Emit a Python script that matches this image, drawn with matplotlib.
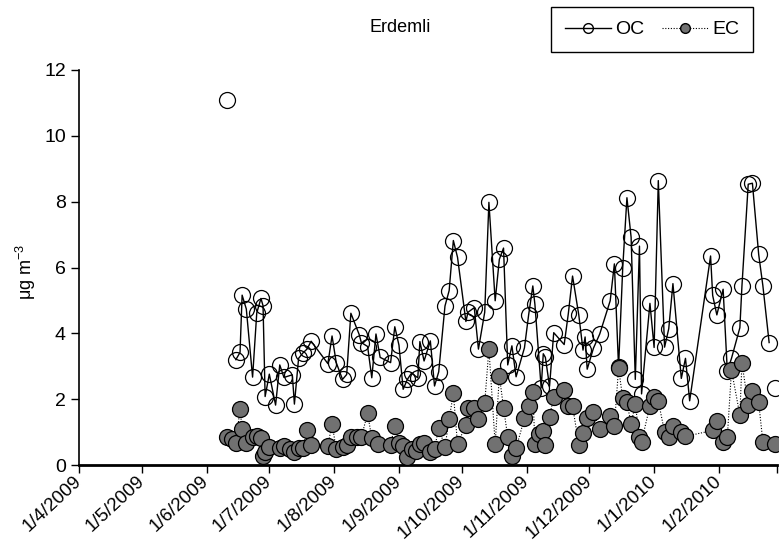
import numpy as np
import pandas as pd
import matplotlib
matplotlib.use("Agg")
import matplotlib.pyplot as plt
from matplotlib.lines import Line2D

# ====================================================
# DATA
# ====================================================

oc_dates = [
    "2009-06-11", "2009-06-15", "2009-06-17", "2009-06-18", "2009-06-20", "2009-06-23",
    "2009-06-25", "2009-06-27", "2009-06-28", "2009-06-29", "2009-07-01", "2009-07-04",
    "2009-07-06", "2009-07-08", "2009-07-12", "2009-07-13", "2009-07-15", "2009-07-17",
    "2009-07-19", "2009-07-21", "2009-07-29", "2009-07-31", "2009-08-02", "2009-08-05",
    "2009-08-07", "2009-08-09", "2009-08-13", "2009-08-14", "2009-08-17", "2009-08-19",
    "2009-08-21", "2009-08-23", "2009-08-28", "2009-08-30", "2009-09-01", "2009-09-03",
    "2009-09-05", "2009-09-07", "2009-09-10", "2009-09-11", "2009-09-13", "2009-09-16",
    "2009-09-18", "2009-09-20", "2009-09-23", "2009-09-25", "2009-09-27", "2009-09-29",
    "2009-10-03", "2009-10-04", "2009-10-07", "2009-10-09", "2009-10-12", "2009-10-14",
    "2009-10-17", "2009-10-19", "2009-10-21", "2009-10-23", "2009-10-25", "2009-10-27",
    "2009-10-31", "2009-11-02", "2009-11-04", "2009-11-05", "2009-11-08", "2009-11-09",
    "2009-11-10", "2009-11-12", "2009-11-14", "2009-11-19", "2009-11-21", "2009-11-23",
    "2009-11-26", "2009-11-28", "2009-11-29", "2009-11-30", "2009-12-03", "2009-12-06",
    "2009-12-11", "2009-12-13", "2009-12-15", "2009-12-17", "2009-12-19", "2009-12-21",
    "2009-12-23", "2009-12-25", "2009-12-26", "2009-12-30", "2010-01-01", "2010-01-03",
    "2010-01-06", "2010-01-08", "2010-01-10", "2010-01-14", "2010-01-16", "2010-01-18",
    "2010-01-28", "2010-01-29", "2010-01-31", "2010-02-03", "2010-02-05", "2010-02-07",
    "2010-02-11", "2010-02-12", "2010-02-15", "2010-02-17", "2010-02-20", "2010-02-22",
    "2010-02-25", "2010-02-28",
]
oc_values = [
    11.10, 3.20, 3.42, 5.16, 4.74, 2.67,
    4.62, 5.06, 4.84, 2.08, 2.76, 1.82,
    3.04, 2.66, 2.74, 1.85, 3.24, 3.40,
    3.52, 3.76, 3.08, 3.92, 3.11, 2.60,
    2.75, 4.61, 3.96, 3.72, 3.60, 2.65,
    3.98, 3.27, 3.11, 4.20, 3.64, 2.30,
    2.60, 2.79, 2.65, 3.75, 3.16, 3.77,
    2.40, 2.83, 4.83, 5.30, 6.82, 6.31,
    4.36, 4.64, 4.78, 3.52, 4.64, 7.98,
    4.99, 6.25, 6.59, 3.04, 3.62, 2.68,
    3.56, 4.56, 5.44, 4.88, 2.34, 3.38,
    3.27, 2.39, 4.02, 3.66, 4.61, 5.74,
    4.55, 3.49, 3.89, 2.91, 3.55, 3.98,
    4.99, 6.11, 2.97, 6.00, 8.12, 6.92,
    2.60, 6.65, 2.16, 4.91, 3.57, 8.64,
    3.58, 4.14, 5.51, 2.63, 3.24, 1.95,
    6.35, 5.15, 4.56, 5.34, 2.86, 3.24,
    4.17, 5.44, 8.53, 8.56, 6.40, 5.45,
    3.72, 2.33,
]

ec_dates = [
    "2009-06-11", "2009-06-13", "2009-06-15", "2009-06-17", "2009-06-18", "2009-06-20",
    "2009-06-23", "2009-06-25", "2009-06-27", "2009-06-28", "2009-06-29", "2009-07-01",
    "2009-07-06", "2009-07-08", "2009-07-11", "2009-07-13", "2009-07-15", "2009-07-17",
    "2009-07-19", "2009-07-21", "2009-07-29", "2009-07-31", "2009-08-02", "2009-08-05",
    "2009-08-07", "2009-08-09", "2009-08-12", "2009-08-14", "2009-08-17", "2009-08-19",
    "2009-08-22", "2009-08-28", "2009-08-30", "2009-09-01", "2009-09-03", "2009-09-05",
    "2009-09-07", "2009-09-09", "2009-09-11", "2009-09-13", "2009-09-16", "2009-09-18",
    "2009-09-20", "2009-09-23", "2009-09-25", "2009-09-27", "2009-09-29", "2009-10-03",
    "2009-10-04", "2009-10-07", "2009-10-09", "2009-10-12", "2009-10-14", "2009-10-17",
    "2009-10-19", "2009-10-21", "2009-10-23", "2009-10-25", "2009-10-27", "2009-10-31",
    "2009-11-02", "2009-11-04", "2009-11-05", "2009-11-07", "2009-11-09", "2009-11-10",
    "2009-11-12", "2009-11-14", "2009-11-19", "2009-11-21", "2009-11-23", "2009-11-26",
    "2009-11-28", "2009-11-30", "2009-12-03", "2009-12-06", "2009-12-11", "2009-12-13",
    "2009-12-15", "2009-12-17", "2009-12-19", "2009-12-21", "2009-12-23", "2009-12-25",
    "2009-12-26", "2009-12-30", "2010-01-01", "2010-01-03", "2010-01-06", "2010-01-08",
    "2010-01-10", "2010-01-14", "2010-01-16", "2010-01-29", "2010-01-31", "2010-02-03",
    "2010-02-05", "2010-02-07", "2010-02-11", "2010-02-12", "2010-02-15", "2010-02-17",
    "2010-02-20", "2010-02-22", "2010-02-28",
]
ec_values = [
    0.84, 0.78, 0.68, 1.69, 1.09, 0.68,
    0.84, 0.88, 0.81, 0.27, 0.40, 0.56,
    0.51, 0.58, 0.48, 0.40, 0.51, 0.51,
    1.06, 0.61, 0.58, 1.25, 0.48, 0.56,
    0.61, 0.84, 0.84, 0.84, 1.57, 0.81,
    0.64, 0.62, 1.20, 0.66, 0.59, 0.23,
    0.48, 0.42, 0.65, 0.67, 0.38, 0.50,
    1.12, 0.55, 1.39, 2.18, 0.63, 1.22,
    1.72, 1.74, 1.39, 1.88, 3.53, 0.64,
    2.71, 1.74, 0.86, 0.28, 0.51, 1.42,
    1.79, 2.23, 0.63, 0.93, 1.04, 0.61,
    1.47, 2.08, 2.28, 1.79, 1.79, 0.62,
    0.98, 1.42, 1.62, 1.08, 1.48, 1.19,
    2.94, 2.03, 1.90, 1.25, 1.85, 0.86,
    0.71, 1.80, 2.07, 1.95, 1.00, 0.84,
    1.19, 1.00, 0.87, 1.05, 1.33, 0.71,
    0.84, 2.88, 1.52, 3.10, 1.82, 2.26,
    1.90, 0.71, 0.63,
]

month_ticks = [
    "2009-04-01", "2009-05-01", "2009-06-01", "2009-07-01", "2009-08-01", "2009-09-01",
    "2009-10-01", "2009-11-01", "2009-12-01", "2010-01-01", "2010-02-01", "2010-03-01",
]
month_labels = [
    "1/4/2009", "1/5/2009", "1/6/2009", "1/7/2009", "1/8/2009", "1/9/2009",
    "1/10/2009", "1/11/2009", "1/12/2009", "1/1/2010", "1/2/2010", "",
]
y_ticks = [0, 2, 4, 6, 8, 10, 12]

# ====================================================
# PLOT
# ====================================================

plt.rcParams["font.family"] = ["Liberation Sans", "DejaVu Sans"]
plt.rcParams["mathtext.fontset"] = "custom"
plt.rcParams["mathtext.rm"] = "Liberation Sans"
plt.rcParams["mathtext.it"] = "Liberation Sans"

oc_x = pd.to_datetime(oc_dates)
ec_x = pd.to_datetime(ec_dates)
tick_x = pd.to_datetime(month_ticks)

fig = plt.figure(figsize=(7.83, 5.45), dpi=100)
ax = fig.add_axes([79 / 783, 1 - 465 / 545, (777.5 - 79) / 783, (465 - 70) / 545])

ms = 11.5
ec_grey = "#717171"

# OC: first and last samples stand alone in the original (no connecting line)
ax.plot(oc_x[1:-1], oc_values[1:-1], color="black", lw=1.0, zorder=2)
ax.plot(oc_x, oc_values, ls="none", marker="o", ms=ms, mfc="none",
        mec="black", mew=0.9, zorder=3)

ax.plot(ec_x, ec_values, color="black", lw=0.8, ls=(0, (1, 1.5)), zorder=4)
ax.plot(ec_x, ec_values, ls="none", marker="o", ms=ms, mfc=ec_grey,
        mec="black", mew=0.9, zorder=5)

ax.set_xlim(tick_x[0], tick_x[-1])
ax.set_ylim(0, 12)
ax.set_yticks(y_ticks)
ax.set_xticks(tick_x)
ax.set_xticklabels(month_labels, rotation=43, ha="right", va="center",
                   rotation_mode="anchor")

for side in ["top", "right"]:
    ax.spines[side].set_visible(False)
ax.spines["left"].set_linewidth(1.2)
ax.spines["bottom"].set_linewidth(2.0)
ax.tick_params(axis="both", direction="out", length=6, width=1.0, labelsize=14)
ax.tick_params(axis="x", labelsize=13.5, pad=4)

ax.set_ylabel(r"$\mathrm{\mu g\ m^{-3}}$", fontsize=13)
ax.yaxis.set_label_coords(-0.058, 0.49)

fig.text(400 / 783, 1 - 28 / 545, "Erdemli", ha="center", va="center", fontsize=13)

handles = [
    Line2D([], [], color="black", lw=1.0, marker="o", ms=7, mfc="none", mec="black"),
    Line2D([], [], color="black", lw=0.8, ls=(0, (1, 1.5)), marker="o", ms=7,
           mfc=ec_grey, mec="black"),
]
leg = fig.legend(handles, ["OC", "EC"], loc="center",
                 bbox_to_anchor=(652 / 783, 1 - 29.5 / 545), ncol=2, frameon=True,
                 fancybox=False, edgecolor="black", framealpha=1, fontsize=14,
                 handlelength=2.4, columnspacing=0.9, borderpad=0.7,
                 handletextpad=0.2, borderaxespad=0)
leg.get_frame().set_linewidth(1.0)

fig.savefig("out.png", dpi=100)
